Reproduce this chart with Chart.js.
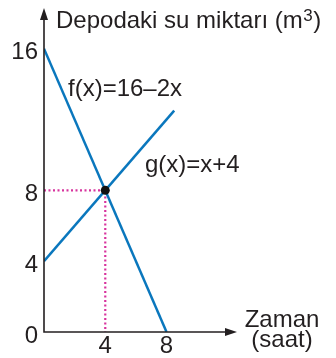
<!DOCTYPE html>
<html>
<head>
<meta charset="utf-8">
<script src="https://cdn.jsdelivr.net/npm/chart.js@4/dist/chart.umd.min.js"></script>
<style>
  html, body { margin: 0; padding: 0; background: #fff; }
  #box { width: 336px; height: 358px; }
</style>
</head>
<body>
<div id="box"><canvas id="tank" width="336" height="358"></canvas></div>
<script>
// values
const fXs = [0, 8];
const fYs = [16, 0];
const gXs = [0, 8.5];
const gYs = [4, 12.5];
const meetX = 4;
const meetY = 8;
const yTicks = [0, 4, 8, 16];
const xTicks = [4, 8];
const yTitle = "Depodaki su miktarı (m";
const ySup = "3";
const xTitle = ["Zaman", "(saat)"];
const fLabel = "f(x)=16–2x";
const gLabel = "g(x)=x+4";

const BLUE = "#0a77bd";
const PINK = "#d8349e";
const INK = "#231f20";
const FONT = "24px 'Liberation Sans', Arial, sans-serif";

function pts(xs, ys) {
  return xs.map((x, i) => ({ x: x, y: ys[i] }));
}

const axesPlugin = {
  id: "axesPlugin",
  afterDatasetsDraw(chart) {
    const ctx = chart.ctx;
    const xs = chart.scales.x, ys = chart.scales.y;
    const ox = xs.getPixelForValue(0), oy = ys.getPixelForValue(0);
    const right = chart.chartArea.right, top = chart.chartArea.top;
    ctx.save();
    ctx.strokeStyle = INK;
    ctx.fillStyle = INK;
    ctx.lineWidth = 1.6;
    ctx.beginPath();
    ctx.moveTo(ox, top + 6);
    ctx.lineTo(ox, oy);
    ctx.lineTo(right - 6, oy);
    ctx.stroke();
    // arrow heads
    ctx.beginPath();
    ctx.moveTo(ox, top);
    ctx.lineTo(ox - 4, top + 12);
    ctx.lineTo(ox + 4, top + 12);
    ctx.closePath();
    ctx.fill();
    ctx.beginPath();
    ctx.moveTo(right, oy);
    ctx.lineTo(right - 12, oy - 4);
    ctx.lineTo(right - 12, oy + 4);
    ctx.closePath();
    ctx.fill();

    ctx.font = FONT;
    ctx.textAlign = "right";
    ctx.textBaseline = "middle";
    yTicks.forEach(v => {
      ctx.fillText(String(v), ox - 6, ys.getPixelForValue(v) + 4);
    });
    ctx.textAlign = "center";
    ctx.textBaseline = "alphabetic";
    xTicks.forEach(v => {
      ctx.fillText(String(v), xs.getPixelForValue(v), 353);
    });

    // axis titles
    ctx.textAlign = "left";
    ctx.fillText(yTitle, 56, 28);
    let w = ctx.measureText(yTitle).width;
    ctx.font = "17px 'Liberation Sans', Arial, sans-serif";
    ctx.fillText(ySup, 56 + w + 0.5, 21);
    let w2 = ctx.measureText(ySup).width;
    ctx.font = FONT;
    ctx.fillText(")", 56 + w + w2 + 1, 28);

    ctx.textAlign = "center";
    ctx.fillText(xTitle[0], 282, 327);
    ctx.fillText(xTitle[1], 282, 347);

    ctx.textAlign = "left";
    ctx.fillText(fLabel, 68, 96);
    ctx.fillText(gLabel, 145, 172);
    ctx.restore();
  }
};

new Chart(document.getElementById("tank"), {
  type: "line",
  data: {
    datasets: [
      {
        data: pts([0, meetX, meetX], [meetY, meetY, 0]),
        borderColor: PINK,
        borderWidth: 2.2,
        borderDash: [2, 2.5],
        pointRadius: 0,
        order: 3
      },
      {
        data: pts(fXs, fYs),
        borderColor: BLUE,
        borderWidth: 2.5,
        pointRadius: 0,
        order: 2
      },
      {
        data: pts(gXs, gYs),
        borderColor: BLUE,
        borderWidth: 2.5,
        pointRadius: 0,
        order: 2
      },
      {
        data: [{ x: meetX, y: meetY }],
        showLine: false,
        pointRadius: 4.5,
        pointBackgroundColor: "#111",
        pointBorderWidth: 0,
        order: 1
      }
    ]
  },
  options: {
    responsive: false,
    devicePixelRatio: 1,
    animation: false,
    layout: { padding: { left: 44, right: 99, top: 8, bottom: 26 } },
    plugins: { legend: { display: false }, tooltip: { enabled: false } },
    scales: {
      x: { type: "linear", min: 0, max: 12.6, display: false },
      y: { type: "linear", min: 0, max: 18.3, display: false }
    }
  },
  plugins: [axesPlugin]
});
</script>
</body>
</html>
